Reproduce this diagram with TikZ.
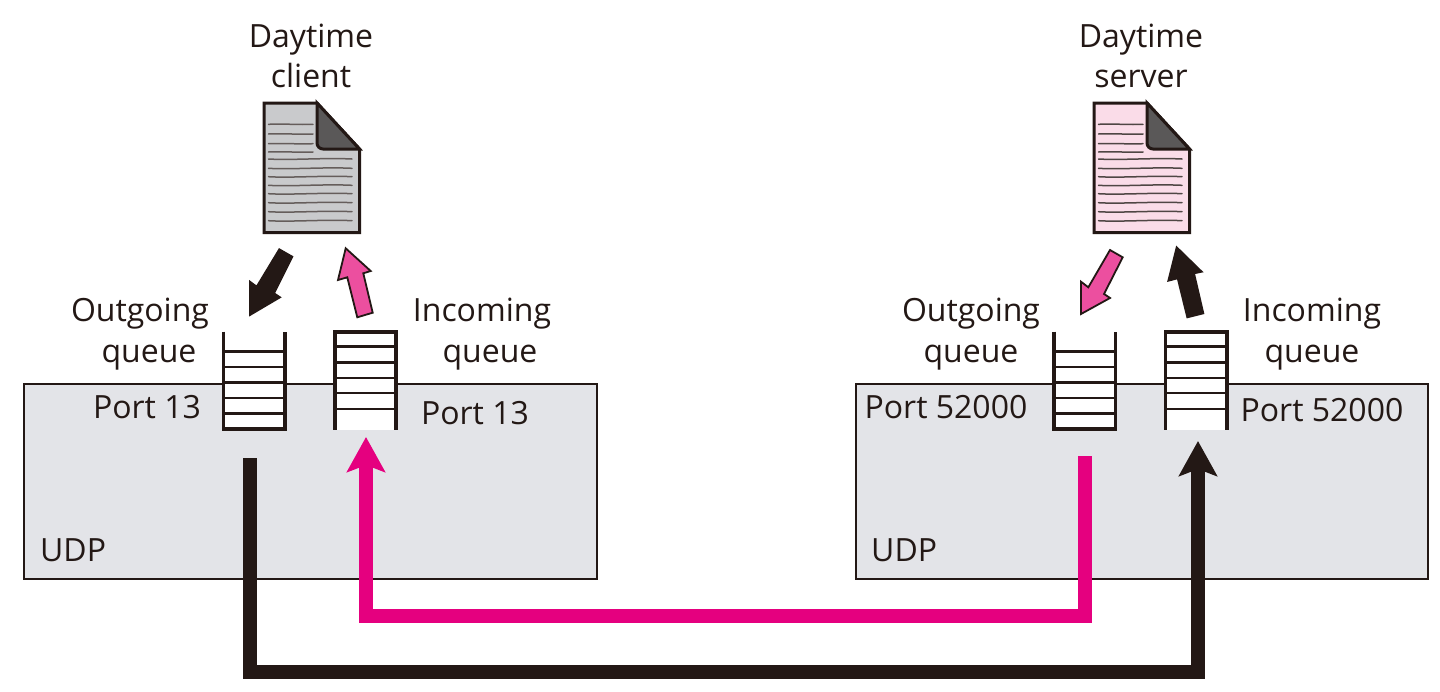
\documentclass[tikz,border=0pt]{standalone}
\usepackage{fontspec}
\setmainfont{Open Sans}
\usetikzlibrary{arrows.meta}
\definecolor{ink}{HTML}{231815}
\definecolor{magentaline}{HTML}{E5007F}
\definecolor{pinkarrow}{HTML}{EC4F9F}
\definecolor{panel}{HTML}{E3E4E8}
\definecolor{foldgray}{HTML}{5A5858}
\definecolor{docgray}{HTML}{C9CACC}
\definecolor{docpink}{HTML}{FADCE8}
\tikzset{
  panelbox/.style={draw=ink,fill=panel,line width=2.6pt},
  lbl/.style={inner sep=0pt,text=ink,font=\fontsize{32}{36}\selectfont,anchor=base},
  lblw/.style={lbl,anchor=base west},
  conn/.style={line width=14pt,line join=miter,-{Stealth[length=35pt,width=38pt,inset=7pt]}},
  connblack/.style={conn,draw=ink,color=ink},
  connpink/.style={conn,draw=magentaline,color=magentaline},
  qrail/.style={draw=ink,line width=3.4pt},
  qrung/.style={draw=ink,line width=2.8pt},
  docline/.style={line width=1.5pt,line cap=round},
  docedge/.style={draw=ink,line width=3pt,line join=miter},
  blockarrow/.style={line width=1.8pt,line join=miter}
}
\newcommand{\docicon}[3]{%
  \begin{scope}[xshift=#1pt]
    \path[docedge,fill=#2] (264,103) -- (317,103) -- (359.5,149) -- (359.5,232.5) -- (264,232.5) -- cycle;
    \path[docedge,fill=foldgray] (317,103) -- (359.5,149) -- (323,149) to[out=180,in=-90] (317,143) -- cycle;
    \foreach \yy in {124.3,134,143.7,152}
      \draw[docline,draw=#3] (268.5,\yy) .. controls (285,\yy-0.7) and (300,\yy+0.7) .. (313,\yy);
    \foreach \yy in {159,168.3,176.7,185.3,193.7,202.7,211.7,220.7}
      \draw[docline,draw=#3] (268.5,\yy) .. controls (290,\yy+1.4) and (325,\yy-1.4) .. (352,\yy);
  \end{scope}}
\newcommand{\qrungs}[2]{\foreach \yy in {#2}{\draw[qrung] (#1,\yy) -- ++(61,0);}}
\begin{document}
\begin{tikzpicture}[x=1pt,y=-1pt]
\useasboundingbox (0,0) rectangle (1440,691);
\fill[white] (0,0) rectangle (1440,691);

% UDP boxes
\node[panelbox,minimum width=573pt,minimum height=195pt,inner sep=0pt,anchor=north west] (udpL) at (22.5,382.5) {};
\node[panelbox,minimum width=572pt,minimum height=195pt,inner sep=0pt,anchor=north west] (udpR) at (854.5,382.5) {};

% Queues
\fill[white] (223.5,331.5) rectangle (285,429);
\draw[qrail] (223.5,331.5) -- (223.5,429) -- (285,429) -- (285,331.5);
\qrungs{223.5}{351.7,367,382.7,398,413.7}
\fill[white] (335,331.5) rectangle (396,429.5);
\draw[qrail] (335,429.5) -- (335,332) -- (396,332) -- (396,429.5);
\qrungs{335}{346.7,362.3,378,393,409}
\fill[white] (1054,331.5) rectangle (1115.5,429);
\draw[qrail] (1054,331.5) -- (1054,429) -- (1115.5,429) -- (1115.5,331.5);
\qrungs{1054}{351.7,367,382.7,398,413.7}
\fill[white] (1165.5,331.5) rectangle (1227,429.5);
\draw[qrail] (1165.5,429.5) -- (1165.5,332) -- (1227,332) -- (1227,429.5);
\qrungs{1165.5}{346.7,362.3,378,393,409}

% Documents
\docicon{0}{docgray}{ink!70}
\docicon{830}{docpink}{ink!80}

% Small block arrows
\path[blockarrow,fill=ink,draw=ink] (279.3,249.3) -- (292.3,256.7) -- (274,293.3) -- (280,297.3) -- (250,315) -- (250,281.7) -- (256.7,286.7) -- cycle;
\path[blockarrow,fill=pinkarrow,draw=ink] (345.7,248.3) -- (370.7,271) -- (363.3,273.3) -- (372.7,312.7) -- (357.3,317.3) -- (347.3,277.3) -- (338,280) -- cycle;
\path[blockarrow,fill=pinkarrow,draw=ink] (1110,250) -- (1122.7,257.3) -- (1104,294) -- (1110,298) -- (1081,314) -- (1081,281.7) -- (1088.3,287.3) -- cycle;
\path[blockarrow,fill=ink,draw=ink] (1176.7,247.3) -- (1201.7,271.7) -- (1194,273.3) -- (1203.3,313.3) -- (1187.3,317.3) -- (1177.7,278.3) -- (1168.3,280.7) -- cycle;

% Connectors
\coordinate (srcB) at (250,458);
\coordinate (dstB) at (1198,441);
\coordinate (srcP) at (1085,456);
\coordinate (dstP) at (366,437);
\draw[connblack] (srcB) -- (250,672) -- (1198,672) -- (dstB);
\draw[connpink] (srcP) -- (1085,616) -- (366,616) -- (dstP);

% Labels
\node[lbl] (dc1) at (311,47) {Daytime};
\node[lbl] (dc2) at (311,87) {client};
\node[lbl] (ds1) at (1141,47) {Daytime};
\node[lbl] (ds2) at (1141,87) {server};
\node[lbl] (ol1) at (140,321) {Outgoing};
\node[lbl] (ol2) at (149,362) {queue};
\node[lbl] (il1) at (482,321) {Incoming};
\node[lbl] (il2) at (490,362) {queue};
\node[lbl] (or1) at (971,321) {Outgoing};
\node[lbl] (or2) at (971,362) {queue};
\node[lbl] (ir1) at (1312,321) {Incoming};
\node[lbl] (ir2) at (1312,362) {queue};
\node[lbl] (p1) at (147,418) {Port 13};
\node[lbl] (p2) at (475,424) {Port 13};
\node[lbl] (p3) at (946,418) {Port 52000};
\node[lbl] (p4) at (1322,421) {Port 52000};
\node[lblw] (u1) at (40,561) {UDP};
\node[lblw] (u2) at (871,561) {UDP};
\end{tikzpicture}
\end{document}
